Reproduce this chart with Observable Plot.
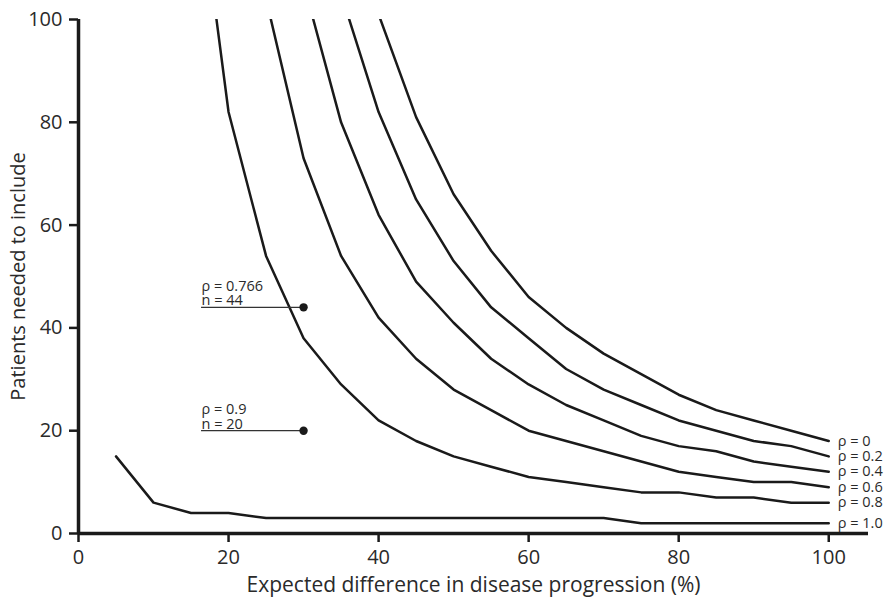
<!DOCTYPE html>
<html>
<head>
<meta charset="utf-8">
<script src="https://cdn.jsdelivr.net/npm/d3@7"></script>
<script src="https://cdn.jsdelivr.net/npm/@observablehq/plot@0.6"></script>
<style>
  html, body { margin: 0; padding: 0; background: #fff; }
  #chart { width: 887px; height: 598px; }
</style>
</head>
<body>
<div id="chart"></div>
<script>
// Expected difference in disease progression (%) -> patients needed
const rho0   = {label: "0",   x: [40,45,50,55,60,65,70,75,80,85,90,95,100], y: [101,81,66,55,46,40,35,31,27,24,22,20,18]};
const rho02  = {label: "0.2", x: [35,40,45,50,55,60,65,70,75,80,85,90,95,100], y: [105,82,65,53,44,38,32,28,25,22,20,18,17,15]};
const rho04  = {label: "0.4", x: [30,35,40,45,50,55,60,65,70,75,80,85,90,95,100], y: [107,80,62,49,41,34,29,25,22,19,17,16,14,13,12]};
const rho06  = {label: "0.6", x: [25,30,35,40,45,50,55,60,65,70,75,80,85,90,95,100], y: [104,73,54,42,34,28,24,20,18,16,14,12,11,10,10,9]};
const rho08  = {label: "0.8", x: [15,20,25,30,35,40,45,50,55,60,65,70,75,80,85,90,95,100], y: [138,82,54,38,29,22,18,15,13,11,10,9,8,8,7,7,6,6]};
const rho10  = {label: "1.0", x: [5,10,15,20,25,30,35,40,45,50,55,60,65,70,75,80,85,90,95,100], y: [15,6,4,4,3,3,3,3,3,3,3,3,3,3,2,2,2,2,2,2]};

// Annotated study points
const annRho = ["0.766", "0.9"];
const annN = [44, 20];
const annX = [30, 30];
const annTextX = 16.4;

const xTicks = [0, 20, 40, 60, 80, 100];
const yTicks = [0, 20, 40, 60, 80, 100];
const xMax = 105.3;
const xLabel = "Expected difference in disease progression (%)";
const yLabel = "Patients needed to include";

const series = [rho0, rho02, rho04, rho06, rho08, rho10];
const rows = series.flatMap(s => s.x.map((x, i) => ({rho: s.label, x, y: s.y[i]})));
const ends = series.map(s => ({rho: s.label, x: s.x[s.x.length - 1], y: s.y[s.y.length - 1]}));
const anns = annRho.map((r, i) => ({rho: r, n: annN[i], x: annX[i], x0: annTextX}));

const ink = "#1a1a1a";
const txt = "#2a2a2a";

const chart = Plot.plot({
  width: 887,
  height: 598,
  marginLeft: 78,
  marginTop: 19,
  marginRight: 19,
  marginBottom: 65,
  style: {fontFamily: "'Open Sans', sans-serif", fontSize: "20px", color: txt, background: "#fff"},
  x: {domain: [0, xMax]},
  y: {domain: [0, 100]},
  marks: [
    Plot.axisX({ticks: xTicks, tickSize: 9, tickPadding: 7, strokeWidth: 2.5, stroke: ink, label: null, fontSize: 20, fill: txt}),
    Plot.axisY({ticks: yTicks, tickSize: 9, tickPadding: 7, strokeWidth: 2.5, stroke: ink, label: null, fontSize: 20, fill: txt}),
    Plot.line(rows, {x: "x", y: "y", z: "rho", stroke: ink, strokeWidth: 2.5, clip: true}),
    Plot.text(ends, {x: "x", y: "y", text: d => "ρ = " + d.rho, textAnchor: "start", dx: 9, fontSize: 14.5, fill: txt}),
    Plot.ruleY(anns, {y: "n", x1: "x0", x2: "x", stroke: "#333", strokeWidth: 1.2}),
    Plot.dot(anns, {x: "x", y: "n", r: 4.2, fill: ink}),
    Plot.text(anns, {x: "x0", y: "n", text: d => "ρ = " + d.rho + "\nn = " + d.n, textAnchor: "start", lineAnchor: "bottom", dy: -2, fontSize: 14.5, lineHeight: 1.0, fill: txt}),
    Plot.ruleY([0], {stroke: ink, strokeWidth: 3.5}),
    Plot.ruleX([0], {stroke: ink, strokeWidth: 3.5}),
    Plot.text([xLabel], {frameAnchor: "bottom", lineAnchor: "middle", dy: 52, x: 52.65, fontSize: 21, fill: txt}),
    Plot.text([yLabel], {frameAnchor: "left", textAnchor: "middle", lineAnchor: "middle", dx: -60, rotate: -90, fontSize: 20, fill: txt})
  ]
});
d3.select(chart).selectAll('g[aria-label$="tick label"]').attr("font-size", 20);
document.getElementById("chart").appendChild(chart);
</script>
</body>
</html>
